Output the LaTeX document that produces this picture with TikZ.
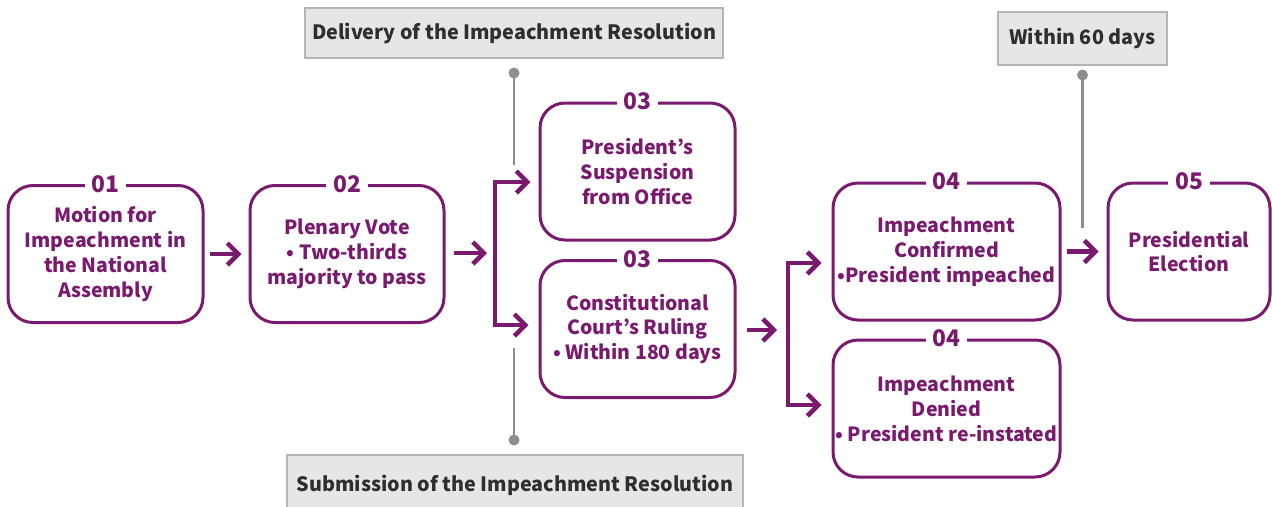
\documentclass[tikz,border=0pt]{standalone}
\usepackage{fontspec}
\setmainfont{Noto Sans CJK KR}
\usetikzlibrary{arrows.meta}

\definecolor{plum}{HTML}{7A1A6F}
\definecolor{boxgray}{HTML}{E6E6E6}
\definecolor{edgegray}{HTML}{B5B5B5}
\definecolor{pingray}{HTML}{8E8E8E}
\definecolor{textgray}{HTML}{2E2E2E}

\tikzset{
  stage/.style={draw=plum, line width=0.06cm, rounded corners=0.5cm, align=center,
    text=plum, font=\bfseries\fontsize{11.1}{14.2}\selectfont, minimum height=2.74cm, inner sep=0pt},
  stagenum/.style={fill=white, text=plum, inner xsep=0.14cm, inner ysep=0pt,
    font=\bfseries\fontsize{13}{13}\selectfont},
  flow/.style={draw=plum, line width=0.09cm, line join=miter,
    -{Straight Barb[length=0.22cm, width=0.44cm, line width=0.09cm]}},
  split/.style={draw=plum, line width=0.09cm, line join=miter,
    {Straight Barb[length=0.22cm, width=0.44cm, line width=0.09cm]}-{Straight Barb[length=0.22cm, width=0.44cm, line width=0.09cm]}},
  tag/.style={draw=edgegray, fill=boxgray, line width=0.03cm, text=textgray,
    font=\bfseries\fontsize{11.25}{14}\selectfont, inner sep=0pt},
  pin/.style={draw=pingray, line width=0.05cm}
}

\begin{document}
\begin{tikzpicture}

\useasboundingbox (0,0) rectangle (25.44,-10.12);

% The stages of the procedure
\node[stage, minimum width=3.9cm] (motion) at (2.11,-5.08) {Motion for\\Impeachment in\\the National\\Assembly};
\node[stage, minimum width=3.88cm] (vote) at (6.94,-5.08) {Plenary Vote\\\textbullet\ Two-thirds\\majority to pass};
\node[stage, minimum width=3.9cm] (suspend) at (12.75,-3.43) {President’s\\Suspension\\from Office};
\node[stage, minimum width=3.9cm] (court) at (12.75,-6.58) {Constitutional\\Court’s Ruling\\\textbullet\ Within 180 days};
\node[stage, minimum width=4.54cm] (confirmed) at (18.93,-5.03) {Impeachment\\Confirmed\\\textbullet President impeached};
\node[stage, minimum width=4.54cm] (denied) at (18.93,-8.17) {Impeachment\\Denied\\\textbullet\ President re-instated};
\node[stage, minimum width=3.24cm] (election) at (23.78,-5.03) {Presidential\\Election};

% Step numbers on the top edges
\node[stagenum] at (motion.north) {01};
\node[stagenum] at (vote.north) {02};
\node[stagenum] at (suspend.north) {03};
\node[stagenum] at (court.north) {03};
\node[stagenum] at (confirmed.north) {04};
\node[stagenum] at (denied.north) {04};
\node[stagenum] at (election.north) {05};

% Gray tags
\node[tag, minimum width=8.36cm, minimum height=1.0cm] (delivery) at (10.28,-0.66) {Delivery of the Impeachment Resolution};
\node[tag, minimum width=9.12cm, minimum height=1.2cm] (submission) at (10.3,-9.7) {Submission of the Impeachment Resolution};
\node[tag, minimum width=3.38cm, minimum height=1.06cm] (sixty) at (21.65,-0.77) {Within 60 days};

% Forks
\coordinate (forkA) at (9.9,-5.06);
\coordinate (forkAtop) at (9.9,-3.64);
\coordinate (forkAbot) at (9.9,-6.5);
\coordinate (forkB) at (15.76,-6.6);
\coordinate (forkBtop) at (15.76,-5.26);
\coordinate (forkBbot) at (15.76,-8.1);

% Arrows
\draw[flow, shorten <=0.1cm, shorten >=0.14cm] (motion) -- (vote);
\draw[flow, shorten <=0.16cm, shorten >=0.16cm] (vote.east |- forkA) -- (forkA);
\draw[split, shorten <=0.16cm, shorten >=0.2cm] (forkAtop -| suspend.west) -- (forkAtop) -- (forkAbot) -- (forkAbot -| court.west);
\draw[flow, shorten <=0.2cm, shorten >=0.22cm] (court.east |- forkB) -- (forkB);
\draw[split, shorten <=0.2cm, shorten >=0.2cm] (forkBtop -| confirmed.west) -- (forkBtop) -- (forkBbot) -- (forkBbot -| denied.west);
\draw[flow, shorten <=0.1cm, shorten >=0.16cm] (confirmed.east |- election) -- (election);

% Pins to the gray tags
\coordinate (dotA) at (10.28,-1.46);
\coordinate (endA) at (10.28,-3.3);
\coordinate (dotB) at (10.28,-8.8);
\coordinate (endB) at (10.28,-6.96);
\coordinate (dotC) at (21.65,-1.5);
\coordinate (endC) at (21.65,-4.56);
\draw[pin] (dotA) -- (endA);
\draw[pin] (dotB) -- (endB);
\draw[pin] (dotC) -- (endC);
\fill[pingray] (dotA) circle (0.11);
\fill[pingray] (dotB) circle (0.11);
\fill[pingray] (dotC) circle (0.11);

\end{tikzpicture}
\end{document}
